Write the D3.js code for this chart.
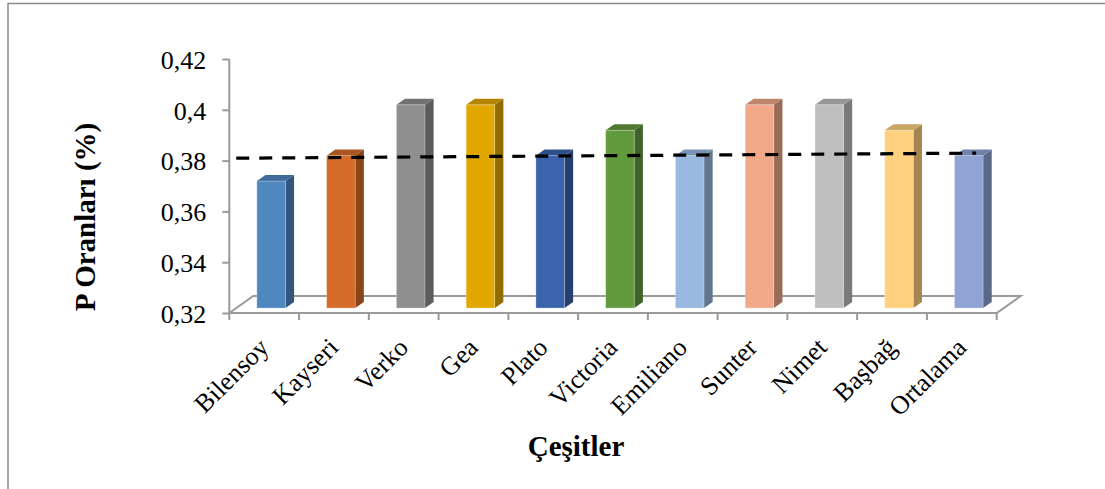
<!DOCTYPE html>
<html>
<head>
<meta charset="utf-8">
<script src="https://cdn.jsdelivr.net/npm/d3@7"></script>
<style>
  html, body { margin: 0; padding: 0; background: #fff; }
  svg { display: block; }
  text { font-family: "Liberation Serif", "Times New Roman", serif; fill: #000; }
</style>
</head>
<body>
<svg id="chart" width="1105" height="489"></svg>
<script>
// Phosphorus content by cultivar
const categories = ["Bilensoy", "Kayseri", "Verko", "Gea", "Plato", "Victoria",
                    "Emiliano", "Sunter", "Nimet", "Başbağ", "Ortalama"];
const values = [0.37, 0.38, 0.40, 0.40, 0.38, 0.39, 0.38, 0.40, 0.40, 0.39, 0.38];
const yTicks = [0.32, 0.34, 0.36, 0.38, 0.40, 0.42];
const yTickLabels = ["0,32", "0,34", "0,36", "0,38", "0,4", "0,42"];
// dashed reference line: value at the start and at the end
const refLine = [0.379, 0.381];
const frontColors = ["#4F87C0", "#D56C29", "#8F8F8F", "#E3A800", "#3A63AD", "#629A3E",
                     "#99B9E1", "#F1A98A", "#BFBFBF", "#FFD17F", "#8FA3D5"];
const yTitle = "P Oranları (%)";
const xTitle = "Çeşitler";

const svg = d3.select("#chart");

// outer frame
svg.append("rect")
  .attr("x", 8).attr("y", 3.5).attr("width", 1110).attr("height", 500)
  .attr("fill", "none").attr("stroke", "#8a8a8a").attr("stroke-width", 1.5);

// 3D plot geometry: front plane scales plus a depth vector
const x = d3.scaleBand().domain(categories).range([229.3, 996.7]).paddingInner(0).paddingOuter(0);
const y = d3.scaleLinear().domain([0.32, 0.42]).range([313, 59]);
const depth = { dx: 24, dy: -17 };
const d0 = 0.29, d1 = 0.65;         // bar depth span (fractions of floor depth)
const faceW = x.bandwidth() * 0.41;

const P = (px, py, f) => [px + depth.dx * f, py + depth.dy * f];

// floor outline
const axisCol = "#9a9a9a";
const fl = [x.range()[0], x.range()[1]];
svg.append("path")
  .attr("d", d3.line()([
    P(fl[0], y(0.32), 0), P(fl[1], y(0.32), 0), P(fl[1], y(0.32), 1),
    P(fl[0], y(0.32), 1), P(fl[0], y(0.32), 0)
  ]))
  .attr("fill", "none").attr("stroke", axisCol).attr("stroke-width", 2);

// vertical axis
const yAxis = d3.axisLeft(y).tickValues(yTicks).tickSize(7).tickPadding(16)
  .tickFormat((d, i) => yTickLabels[i]);
const gy = svg.append("g").attr("transform", `translate(${fl[0]},0)`).call(yAxis);
gy.select(".domain").attr("stroke", axisCol).attr("stroke-width", 2).attr("d", `M0,${y(0.42)}V${y(0.32)}`);
gy.selectAll(".tick line").attr("stroke", axisCol).attr("stroke-width", 2);
gy.selectAll(".tick text")
  .attr("font-family", "Liberation Serif, Times New Roman, serif")
  .attr("font-size", 26).attr("fill", "#000")
  .attr("dy", "0.36em");

// horizontal axis ticks and labels
const gx = svg.append("g").attr("transform", `translate(0,${y(0.32)})`);
const edges = categories.map(c => x(c)).concat([x.range()[1]]);
gx.selectAll("line.xt").data(edges).join("line")
  .attr("class", "xt")
  .attr("x1", d => d).attr("x2", d => d).attr("y1", 0).attr("y2", 7)
  .attr("stroke", axisCol).attr("stroke-width", 2);

svg.selectAll("text.xl").data(categories).join("text")
  .attr("class", "xl")
  .attr("font-size", 26)
  .attr("text-anchor", "end")
  .attr("transform", c => `translate(${x(c) + x.bandwidth() / 2 + 6},${y(0.32) + 36}) rotate(-45)`)
  .text(c => c);

// bars
const shade = (col, k) => d3.color(col).darker(k).formatHex();
const bars = svg.append("g");
categories.forEach((c, i) => {
  const v = values[i];
  const cx = x(c) + x.bandwidth() / 2;
  const xl = cx - faceW / 2, xr = cx + faceW / 2;
  const yb = y(0.32), yt = y(v);
  const col = frontColors[i];
  const g = bars.append("g");
  // side face
  g.append("path")
    .attr("d", d3.line()([P(xr, yb, d0), P(xr, yt, d0), P(xr, yt, d1), P(xr, yb, d1)]) + "Z")
    .attr("fill", shade(col, 1.25));
  // top face
  g.append("path")
    .attr("d", d3.line()([P(xl, yt, d0), P(xr, yt, d0), P(xr, yt, d1), P(xl, yt, d1)]) + "Z")
    .attr("fill", shade(col, 0.65));
  // front face
  const f0 = P(xl, yt, d0), f1 = P(xr, yb, d0);
  g.append("rect")
    .attr("x", f0[0]).attr("y", f0[1])
    .attr("width", f1[0] - f0[0]).attr("height", f1[1] - f0[1])
    .attr("fill", col)
    .attr("stroke", "rgba(255,255,255,0.35)").attr("stroke-width", 0.8);
});

// dashed reference line across the bars
const firstX = x.range()[0];
const last = categories[categories.length - 1];
const lastX = x(last) + x.bandwidth() / 2 + faceW / 2 - depth.dx * d0;
svg.append("path")
  .attr("d", d3.line()([P(firstX, y(refLine[0]), d0), P(lastX, y(refLine[1]), d0)]))
  .attr("stroke", "#000").attr("stroke-width", 3.2)
  .attr("stroke-dasharray", "13,10").attr("fill", "none");

// axis titles
svg.append("text")
  .attr("font-size", 29).attr("font-weight", "bold")
  .attr("text-anchor", "middle")
  .attr("transform", "translate(95,217) rotate(-90)")
  .text(yTitle);

svg.append("text")
  .attr("font-size", 29).attr("font-weight", "bold")
  .attr("text-anchor", "middle")
  .attr("x", 576).attr("y", 456)
  .text(xTitle);
</script>
</body>
</html>
